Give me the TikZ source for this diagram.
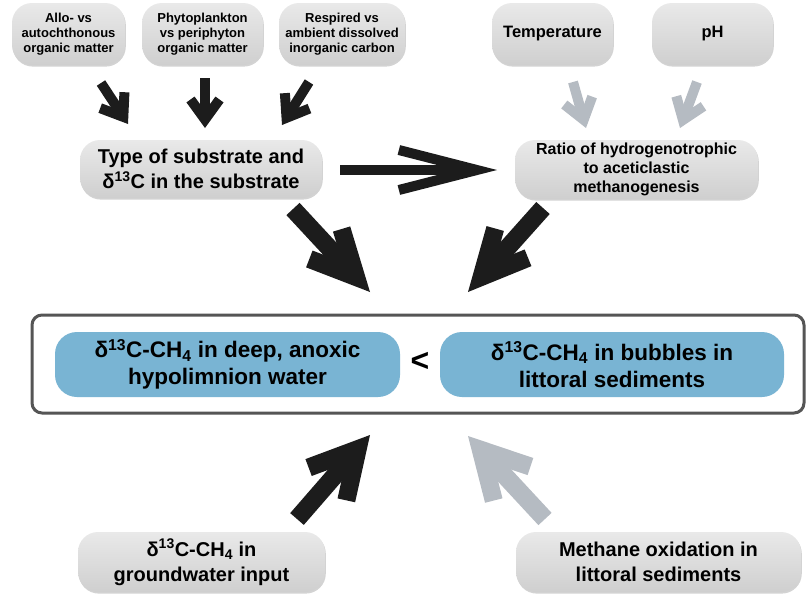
\documentclass[tikz,border=0pt]{standalone}
\usepackage{fontspec}
\setmainfont{Liberation Sans}
\usetikzlibrary{arrows.meta,shadows}

\definecolor{boxtop}{HTML}{E9E9E9}
\definecolor{boxbot}{HTML}{CFCFCF}
\definecolor{lakeblue}{HTML}{79B4D3}
\definecolor{arrowdark}{HTML}{1C1C1C}
\definecolor{arrowgrey}{HTML}{B5BBC2}
\definecolor{framegrey}{HTML}{555555}

\tikzset{
  greybox/.style={rounded corners=20pt, top color=boxtop, bottom color=boxbot,
    align=center, inner sep=0pt,
    drop shadow={shadow xshift=0.8pt, shadow yshift=-1.6pt, opacity=0.35}},
  smallbox/.style={greybox, minimum height=62pt, font=\fontsize{13}{15}\selectfont\bfseries},
  factorbox/.style={greybox, minimum width=121pt, minimum height=62pt, font=\fontsize{16.5}{19}\selectfont\bfseries},
  midbox/.style={greybox, minimum height=58pt, font=\fontsize{20}{25}\selectfont\bfseries},
  ratiobox/.style={greybox, minimum height=59pt, font=\fontsize{16}{19}\selectfont\bfseries},
  lowbox/.style={greybox, minimum height=60pt, font=\fontsize{20}{25}\selectfont\bfseries},
  bluebox/.style={rounded corners=22pt, fill=lakeblue, align=center, inner sep=0pt,
    minimum height=65pt, font=\fontsize{22.5}{27}\selectfont\bfseries},
  outerbox/.style={draw=framegrey, line width=3pt, rounded corners=10pt, fill=white,
    drop shadow={shadow xshift=0.8pt, shadow yshift=-1.2pt, opacity=0.3}},
  thin arrow/.style={arrowdark, line width=10pt, -{Straight Barb[length=20pt, width=29pt]}},
  thin grey/.style={thin arrow, arrowgrey},
  long arrow/.style={arrowdark, line width=10pt, -{Straight Barb[length=78pt, width=40pt]}},
  fat arrow/.style={arrowdark, line width=18pt, -{Straight Barb[length=45pt, width=44pt]}},
  low arrow/.style={arrowdark, line width=18pt, -{Straight Barb[length=46pt, width=50pt]}},
  low grey/.style={low arrow, arrowgrey},
}

\begin{document}
\begin{tikzpicture}[x=1pt, y=-1pt]
    \useasboundingbox (0,0) rectangle (809,595);

    % sources of carbon
    \node[smallbox, minimum width=113pt] (allo) at (68.5,34) {Allo- vs\\autochthonous\\organic matter};
    \node[smallbox, minimum width=121pt] (phyto) at (202.5,34) {Phytoplankton\\vs periphyton\\organic matter};
    \node[smallbox, minimum width=126pt] (respired) at (342,34) {Respired vs\\ambient dissolved\\inorganic carbon};
    \node[factorbox] (temp) at (552.5,34) {Temperature};
    \node[factorbox] (ph) at (712.5,34) {pH};

    \node[midbox, minimum width=242pt] (substrate) at (201,169) {Type of substrate and\\δ\textsuperscript{13}C in the substrate};
    \node[ratiobox, minimum width=243pt] (ratio) at (636.5,169.5) {Ratio of hydrogenotrophic\\to aceticlastic\\methanogenesis};

    % the comparison
    \node[outerbox, minimum width=772pt, minimum height=98pt] (frame) at (418,364) {};
    \node[bluebox, minimum width=345pt] (deep) at (227.5,364.5) {δ\textsuperscript{13}C-CH\textsubscript{4} in deep, anoxic\\hypolimnion water};
    \node[bluebox, minimum width=344pt] (bubbles) at (612,364.5) {δ\textsuperscript{13}C-CH\textsubscript{4} in bubbles in\\littoral sediments};
    \node[font=\fontsize{32}{32}\selectfont\bfseries] (less) at (420,362) {<};

    \node[lowbox, minimum width=247pt] (ground) at (201.5,562) {δ\textsuperscript{13}C-CH\textsubscript{4} in\\groundwater input};
    \node[lowbox, minimum width=285pt] (oxid) at (658.5,562) {Methane oxidation in\\littoral sediments};

    % arrow ends
    \coordinate (allo out) at (101,83);
    \coordinate (allo in) at (128,124);
    \coordinate (phyto out) at (205,78);
    \coordinate (phyto in) at (205,128);
    \coordinate (resp out) at (309,82);
    \coordinate (resp in) at (282,125);
    \coordinate (temp out) at (573,82);
    \coordinate (temp in) at (586,128);
    \coordinate (ph out) at (697,82);
    \coordinate (ph in) at (680,128);
    \coordinate (sub out) at (340,170);
    \coordinate (ratio in) at (497,170);
    \coordinate (sub down) at (293,209);
    \coordinate (frame left) at (370,292);
    \coordinate (ratio down) at (543,208);
    \coordinate (frame right) at (468,292);
    \coordinate (ground up) at (297,519);
    \coordinate (frame low left) at (370,435);
    \coordinate (oxid up) at (545,519);
    \coordinate (frame low right) at (468,436);

    \draw[thin arrow] (allo out) -- (allo in);
    \draw[thin arrow] (phyto out) -- (phyto in);
    \draw[thin arrow] (resp out) -- (resp in);
    \draw[thin grey] (temp out) -- (temp in);
    \draw[thin grey] (ph out) -- (ph in);
    \draw[long arrow] (sub out) -- (ratio in);
    \draw[fat arrow] (sub down) -- (frame left);
    \draw[fat arrow] (ratio down) -- (frame right);
    \draw[low arrow] (ground up) -- (frame low left);
    \draw[low grey] (oxid up) -- (frame low right);
\end{tikzpicture}
\end{document}
